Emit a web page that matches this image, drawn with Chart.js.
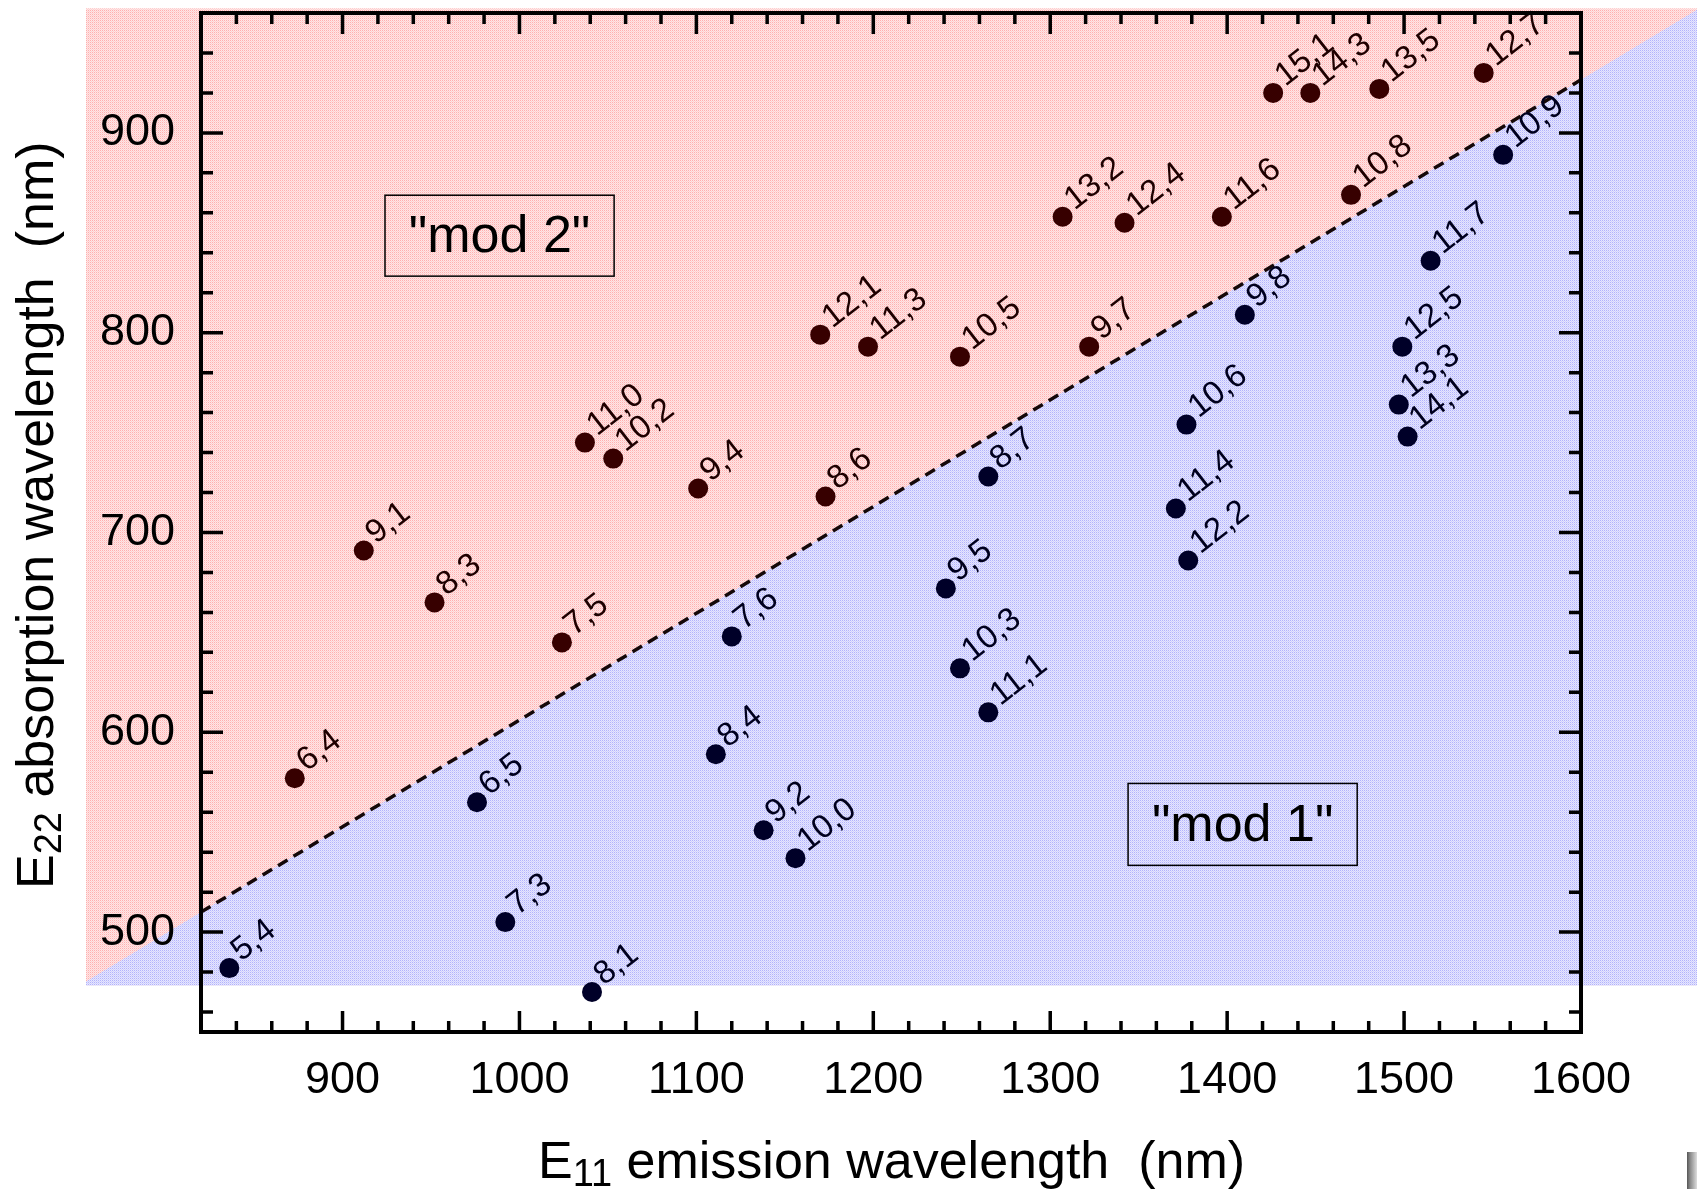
<!DOCTYPE html>
<html>
<head>
<meta charset="utf-8">
<script src="https://cdn.jsdelivr.net/npm/chart.js@4.4.1/dist/chart.umd.min.js"></script>
<style>
html,body{margin:0;padding:0;background:#fff;}
#wrap{width:1697px;height:1189px;position:relative;}
</style>
</head>
<body>
<div id="wrap"><canvas id="c"></canvas></div>
<script>
// ---------- data ----------
const mod2Labels = ['6,4','9,1','8,3','7,5','11,0','10,2','9,4','12,1','8,6','11,3','10,5','13,2','9,7','12,4','11,6','15,1','14,3','10,8','13,5','12,7'];
const mod2X = [873, 912, 952, 1024, 1037, 1053, 1101, 1170, 1173, 1197, 1249, 1307, 1322, 1342, 1397, 1426, 1447, 1470, 1486, 1545];
const mod2Y = [577, 691, 665, 645, 745, 737, 722, 799, 718, 793, 788, 858, 793, 855, 858, 920, 920, 869, 922, 930];

const mod1Labels = ['5,4','6,5','7,3','8,1','8,4','7,6','9,2','10,0','9,5','10,3','8,7','11,1','11,4','10,6','12,2','9,8','13,3','12,5','14,1','11,7','10,9'];
const mod1X = [836, 976, 992, 1041, 1111, 1120, 1138, 1156, 1241, 1249, 1265, 1265, 1371, 1377, 1378, 1410, 1497, 1499, 1502, 1515, 1556];
const mod1Y = [482, 565, 505, 470, 589, 648, 551, 537, 672, 632, 728, 610, 712, 754, 686, 809, 764, 793, 748, 836, 889];

const boundaryX = [820, 1600];
const boundaryY = [510, 926.6];

const xTickValues = [900, 1000, 1100, 1200, 1300, 1400, 1500, 1600];
const yTickValues = [500, 600, 700, 800, 900];

const xTitle = ['E', '11', ' emission wavelength  (nm)'];
const yTitle = ['E', '22', ' absorption wavelength  (nm)'];
const regionTexts = ['"mod 2"', '"mod 1"'];

// ---------- layout / style ----------
const X_MIN = 820, X_MAX = 1600, Y_MIN = 450, Y_MAX = 960;
const SHADE_X = [755, 1670], SHADE_Y = [473.3, 962.4];
const BOXES = [
  {x0: 924, x1: 1053.5, y0: 828.3, y1: 868.8},
  {x0: 1344, x1: 1473.5, y0: 533.4, y1: 574.4}
];
const FONT = '"Liberation Sans", Arial, Helvetica, sans-serif';

function makePattern(c1, c2, c3) {
  const p = document.createElement('canvas');
  p.width = 2; p.height = 2;
  const g = p.getContext('2d');
  g.fillStyle = c2; g.fillRect(0, 0, 2, 2);
  g.fillStyle = c1; g.fillRect(0, 0, 1, 1);
  g.fillStyle = c3; g.fillRect(1, 1, 1, 1);
  return g;
}
const ctxTmp = document.createElement('canvas').getContext('2d');
const redPat = ctxTmp.createPattern(makePattern('rgb(255,175,175)', 'rgb(254,230,230)', 'rgb(255,208,208)').canvas, 'repeat');
const bluePat = ctxTmp.createPattern(makePattern('rgb(178,178,252)', 'rgb(230,230,254)', 'rgb(208,208,253)').canvas, 'repeat');

function drawTitle(ctx, x, y, rot, parts) {
  ctx.save();
  ctx.translate(x, y);
  ctx.rotate(rot);
  ctx.fillStyle = '#000';
  ctx.textAlign = 'left';
  ctx.textBaseline = 'alphabetic';
  ctx.font = '52px ' + FONT;
  ctx.fillText(parts[0], 0, 0);
  let w = ctx.measureText(parts[0]).width;
  ctx.font = '38px ' + FONT;
  ctx.fillText(parts[1], w, 8);
  w += ctx.measureText(parts[1]).width;
  ctx.font = '52px ' + FONT;
  ctx.fillText(parts[2], w, 0);
  ctx.restore();
}

const decor = {
  id: 'decor',
  beforeDraw(chart) {
    const ctx = chart.ctx, xs = chart.scales.x, ys = chart.scales.y;
    ctx.save();
    ctx.fillStyle = '#fff';
    ctx.fillRect(0, 0, chart.width, chart.height);
    const L = xs.getPixelForValue(SHADE_X[0]), R = xs.getPixelForValue(SHADE_X[1]);
    const T = ys.getPixelForValue(SHADE_Y[1]), B = ys.getPixelForValue(SHADE_Y[0]);
    const x0 = xs.getPixelForValue(boundaryX[0]), y0 = ys.getPixelForValue(boundaryY[0]);
    const x1 = xs.getPixelForValue(boundaryX[1]), y1 = ys.getPixelForValue(boundaryY[1]);
    const m = (y1 - y0) / (x1 - x0);
    const yl = x => y0 + m * (x - x0);
    ctx.beginPath(); ctx.rect(L, T, R - L, B - T); ctx.clip();
    ctx.fillStyle = redPat; ctx.fillRect(L, T, R - L, B - T);
    ctx.beginPath();
    ctx.moveTo(L, yl(L)); ctx.lineTo(R, yl(R)); ctx.lineTo(R, B + 5); ctx.lineTo(L, B + 5); ctx.closePath();
    ctx.fillStyle = bluePat; ctx.fill();
    ctx.restore();
  },
  afterDraw(chart) {
    const ctx = chart.ctx, xs = chart.scales.x, ys = chart.scales.y;
    const a = chart.chartArea;
    ctx.save();
    // point labels
    ctx.font = '33px ' + FONT;
    ctx.textAlign = 'left';
    ctx.textBaseline = 'alphabetic';
    [[0, mod2Labels, '#1e0000'], [1, mod1Labels, '#00001e']].forEach(([di, labs, col]) => {
      const meta = chart.getDatasetMeta(di);
      ctx.fillStyle = col;
      meta.data.forEach((el, i) => {
        ctx.save();
        ctx.translate(el.x + 12, el.y - 6);
        ctx.rotate(-38 * Math.PI / 180);
        ctx.fillText(labs[i], 0, 0);
        ctx.restore();
      });
    });
    // region boxes
    ctx.font = '52px ' + FONT;
    ctx.textAlign = 'center';
    ctx.textBaseline = 'middle';
    BOXES.forEach((b, i) => {
      const l = xs.getPixelForValue(b.x0), r = xs.getPixelForValue(b.x1);
      const t = ys.getPixelForValue(b.y1), bt = ys.getPixelForValue(b.y0);
      ctx.lineWidth = 1.5; ctx.strokeStyle = '#000';
      ctx.strokeRect(l, t, r - l, bt - t);
      ctx.fillStyle = '#000';
      ctx.fillText(regionTexts[i], (l + r) / 2, (t + bt) / 2 + 2);
    });
    // frame
    ctx.strokeStyle = '#000';
    ctx.lineWidth = 4;
    ctx.strokeRect(a.left, a.top, a.right - a.left, a.bottom - a.top);
    // ticks (inward, all four sides)
    ctx.lineWidth = 3.5;
    ctx.beginPath();
    for (let v = Math.ceil(X_MIN / 20) * 20; v <= X_MAX; v += 20) {
      const px = xs.getPixelForValue(v);
      const len = v % 100 === 0 ? 21 : 11;
      ctx.moveTo(px, a.bottom); ctx.lineTo(px, a.bottom - len);
      ctx.moveTo(px, a.top); ctx.lineTo(px, a.top + len);
    }
    for (let v = Math.ceil(Y_MIN / 20) * 20; v <= Y_MAX; v += 20) {
      const py = ys.getPixelForValue(v);
      const len = v % 100 === 0 ? 22 : 12;
      ctx.moveTo(a.left, py); ctx.lineTo(a.left + len, py);
      ctx.moveTo(a.right, py); ctx.lineTo(a.right - len, py);
    }
    ctx.stroke();
    // axis titles
    drawTitle(ctx, 538, 1178, 0, xTitle);
    drawTitle(ctx, 53, 889, -Math.PI / 2, yTitle);
    // small artifact at bottom-right corner
    const g = ctx.createLinearGradient(1687, 0, 1697, 0);
    g.addColorStop(0, '#555'); g.addColorStop(0.3, '#888'); g.addColorStop(1, '#ddd');
    ctx.fillStyle = g;
    ctx.fillRect(1687, 1152, 10, 37);
    ctx.restore();
  }
};

const toPts = (xsArr, ysArr) => xsArr.map((x, i) => ({x, y: ysArr[i]}));

new Chart(document.getElementById('c'), {
  type: 'scatter',
  data: {
    datasets: [
      {
        label: 'mod 2',
        data: toPts(mod2X, mod2Y),
        backgroundColor: 'rgb(55,0,0)',
        borderColor: 'rgb(55,0,0)',
        pointRadius: 10,
        pointBorderWidth: 0,
        showLine: false
      },
      {
        label: 'mod 1',
        data: toPts(mod1X, mod1Y),
        backgroundColor: 'rgb(0,0,40)',
        borderColor: 'rgb(0,0,40)',
        pointRadius: 10,
        pointBorderWidth: 0,
        showLine: false
      },
      {
        type: 'line',
        label: 'boundary',
        data: toPts(boundaryX, boundaryY),
        borderColor: '#150808',
        borderWidth: 3.5,
        borderDash: [11, 7],
        pointRadius: 0,
        fill: false
      }
    ]
  },
  options: {
    responsive: true,
    maintainAspectRatio: false,
    animation: false,
    events: [],
    layout: {padding: {top: 13, right: 116, left: 0, bottom: 0}},
    plugins: {legend: {display: false}, tooltip: {enabled: false}},
    scales: {
      x: {
        type: 'linear',
        min: X_MIN, max: X_MAX,
        afterBuildTicks: s => { s.ticks = xTickValues.map(v => ({value: v})); },
        afterFit: s => { s.height = 157; s.paddingLeft = 0; s.paddingRight = 0; s.paddingTop = 0; s.paddingBottom = 0; },
        grid: {display: false, drawTicks: false},
        border: {display: false},
        ticks: {
          padding: 22,
          color: '#000',
          font: {size: 45, family: FONT},
          callback: v => String(v),
          maxRotation: 0, autoSkip: false
        }
      },
      y: {
        type: 'linear',
        min: Y_MIN, max: Y_MAX,
        afterBuildTicks: s => { s.ticks = yTickValues.map(v => ({value: v})); },
        afterFit: s => { s.width = 201; s.paddingLeft = 0; s.paddingRight = 0; s.paddingTop = 0; s.paddingBottom = 0; },
        grid: {display: false, drawTicks: false},
        border: {display: false},
        ticks: {
          padding: 26,
          color: '#000',
          font: {size: 45, family: FONT},
          callback: v => String(v),
          autoSkip: false
        }
      }
    }
  },
  plugins: [decor]
});
</script>
</body>
</html>
